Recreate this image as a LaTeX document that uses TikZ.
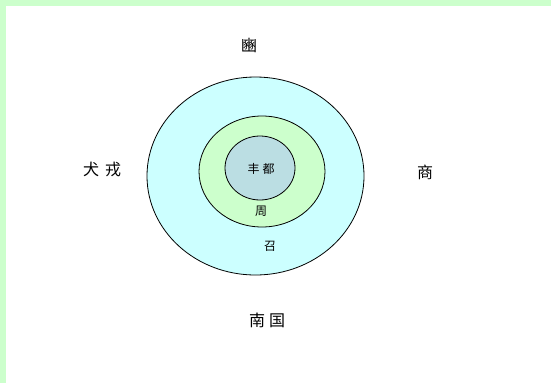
\documentclass[tikz,border=0pt]{standalone}
\usepackage{fontspec}
\newfontfamily\cjk{Noto Sans CJK SC}
\definecolor{bordergreen}{HTML}{CCFFCC}
\definecolor{outerfill}{HTML}{CCFFFF}
\definecolor{midfill}{HTML}{CCFFCC}
\definecolor{innerfill}{HTML}{BBDEE3}
\begin{document}
\begin{tikzpicture}[x=1pt,y=-1pt,
  ring/.style={draw=black,line width=0.8pt},
  lbl/.style={font=\cjk\fontsize{16}{16}\selectfont,inner sep=0pt},
  smalllbl/.style={font=\cjk\fontsize{12}{12}\selectfont,inner sep=0pt}]
\useasboundingbox (0,0) rectangle (551,383);
\fill[white] (0,0) rectangle (551,383);
\fill[bordergreen] (0,0) rectangle (551,6);
\fill[bordergreen] (0,0) rectangle (6,383);
\draw[ring,fill=outerfill] (255.5,176) ellipse [x radius=108.5, y radius=99];
\draw[ring,fill=midfill] (262,171.5) ellipse [x radius=63, y radius=55.5];
\draw[ring,fill=innerfill] (260,168) ellipse [x radius=35, y radius=32];
\node[lbl] (bin) at (249,45) {豳};
\node[lbl] (quanrong) at (102,169) {犬\hspace{6pt}戎};
\node[lbl] (shang) at (425,172) {商};
\node[smalllbl] (fengdu) at (261,169) {丰\hspace{3pt}都};
\node[smalllbl] (zhou) at (261,211) {周};
\node[smalllbl] (shao) at (270,246) {召};
\node[lbl] (nanguo) at (267,320) {南\hspace{4pt}国};
\end{tikzpicture}
\end{document}
